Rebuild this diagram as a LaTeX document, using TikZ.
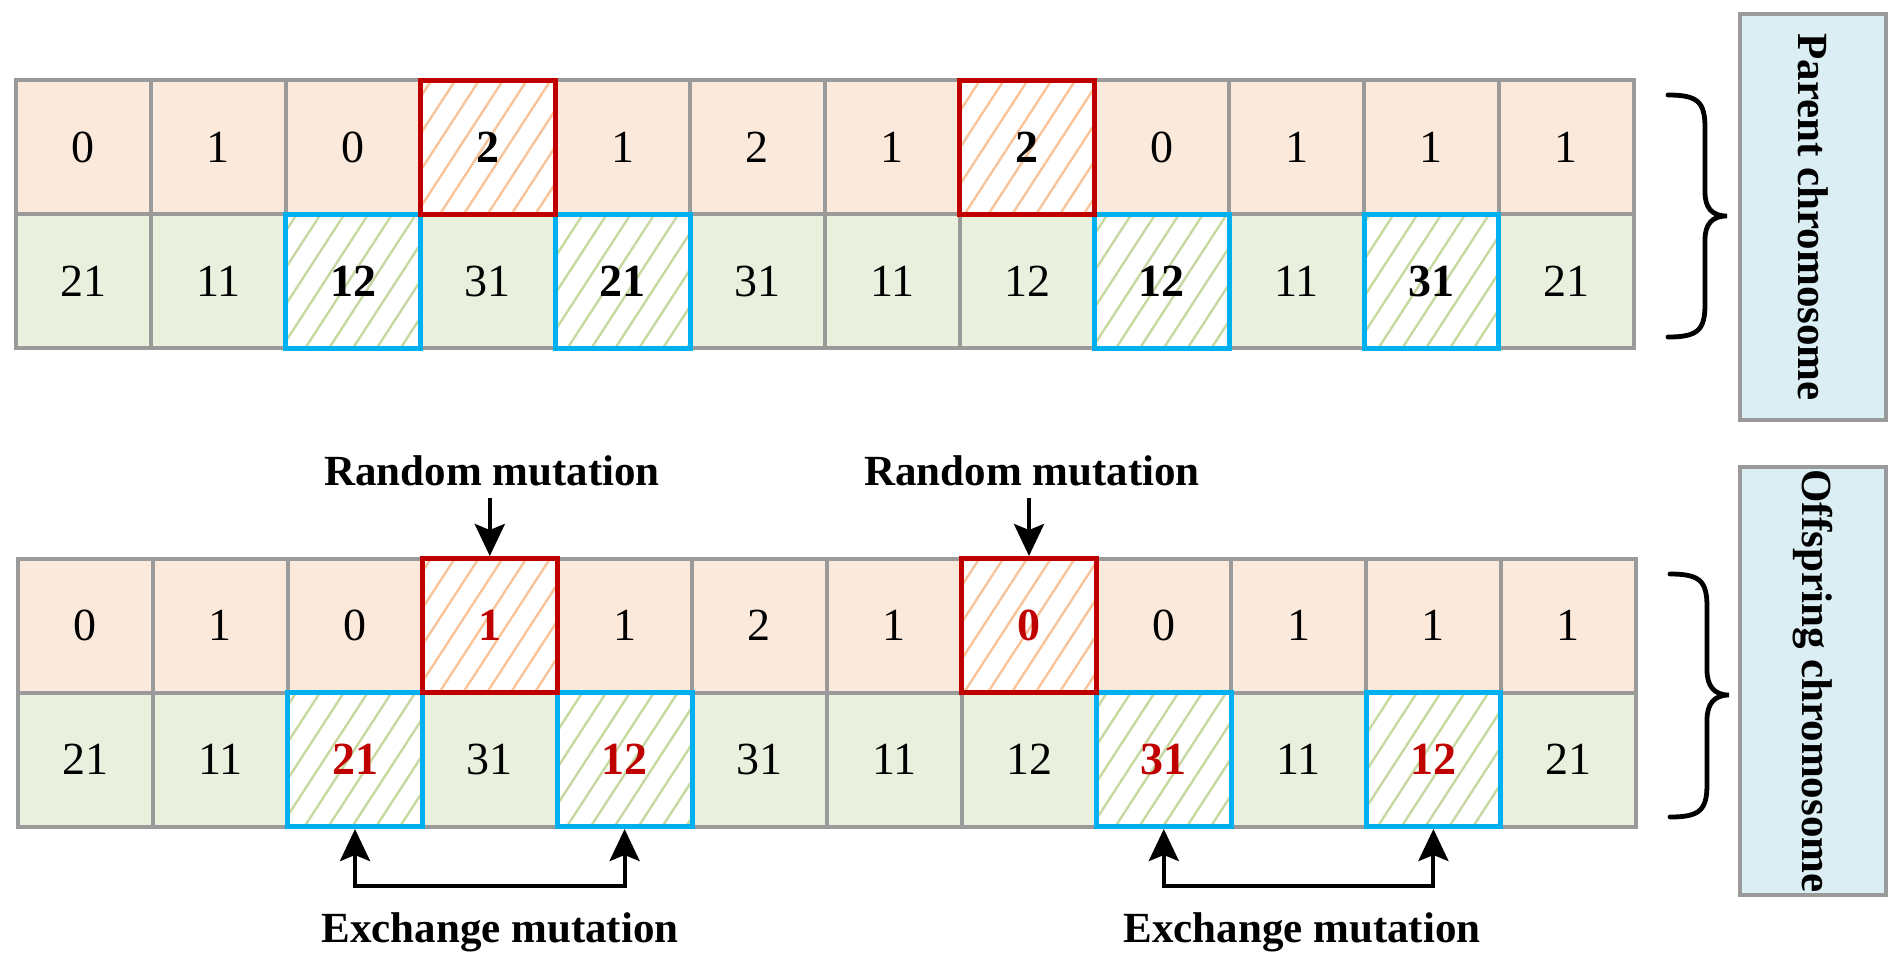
\documentclass[tikz,border=0pt]{standalone}
\usepackage{fontspec}
\setmainfont{Liberation Serif}
\usetikzlibrary{patterns.meta,arrows.meta}
\definecolor{peach}{HTML}{FBE9DB}
\definecolor{lgreen}{HTML}{EAF0DE}
\definecolor{hatchO}{HTML}{FAC49B}
\definecolor{hatchG}{HTML}{C6D9A1}
\definecolor{cellgray}{HTML}{9A9A9A}
\definecolor{mred}{HTML}{C00000}
\definecolor{mblue}{HTML}{00B0F0}
\definecolor{lblue}{HTML}{DAEEF3}
\tikzset{
  cell/.style={draw=cellgray, line width=2pt, minimum width=67.4pt, minimum height=67pt, inner sep=0pt, font=\fontsize{23}{27}\selectfont},
  gA/.style={cell, fill=peach},
  gB/.style={cell, fill=lgreen},
  hA/.style={cell, draw=mred, line width=2.5pt, preaction={fill=white}, pattern={Lines[angle=57,distance=10pt,line width=1.2pt]}, pattern color=hatchO, font=\fontsize{23}{27}\selectfont\bfseries},
  hB/.style={cell, draw=mblue, line width=2.5pt, preaction={fill=white}, pattern={Lines[angle=57,distance=10pt,line width=1.2pt]}, pattern color=hatchG, font=\fontsize{23}{27}\selectfont\bfseries},
  redtxt/.style={text=mred},
  lbl/.style={inner sep=6pt, font=\fontsize{21.5}{25}\selectfont\bfseries},
  sidebox/.style={draw=cellgray, line width=2pt, fill=lblue, rotate=-90, minimum height=73pt, inner sep=0pt, font=\fontsize{21.5}{25}\selectfont\bfseries},
  arr/.style={line width=2pt, -{Stealth[length=16pt,width=15pt,inset=3pt]}},
  darr/.style={line width=2pt, {Stealth[length=16pt,width=15pt,inset=3pt]}-{Stealth[length=16pt,width=15pt,inset=3pt]}},
  bracepath/.style={line width=2.4pt, line cap=round}
}
\begin{document}
\begin{tikzpicture}[x=0.5pt,y=-0.5pt]
\useasboundingbox (0,0) rectangle (1899,965);
% ---------- Parent chromosome ----------
\foreach \i/\v in {0/0,1/1,2/0,4/1,5/2,6/1,8/0,9/1,10/1,11/1}
  \node[gA] (pa\i) at ({16+134.8*(\i+0.5)},147) {\v};
\foreach \i/\v in {0/21,1/11,3/31,5/31,6/11,7/12,9/11,11/21}
  \node[gB] (pb\i) at ({16+134.8*(\i+0.5)},281) {\v};
\foreach \i/\v in {2/12,4/21,8/12,10/31}
  \node[hB] (pb\i) at ({16+134.8*(\i+0.5)},281) {\v};
\foreach \i/\v in {3/2,7/2}
  \node[hA] (pa\i) at ({16+134.8*(\i+0.5)},147) {\v};
% ---------- Offspring chromosome ----------
\foreach \i/\v in {0/0,1/1,2/0,4/1,5/2,6/1,8/0,9/1,10/1,11/1}
  \node[gA] (oa\i) at ({18+134.8*(\i+0.5)},625.5) {\v};
\foreach \i/\v in {0/21,1/11,3/31,5/31,6/11,7/12,9/11,11/21}
  \node[gB] (ob\i) at ({18+134.8*(\i+0.5)},759.5) {\v};
\foreach \i/\v in {2/21,4/12,8/31,10/12}
  \node[hB, redtxt] (ob\i) at ({18+134.8*(\i+0.5)},759.5) {\v};
\foreach \i/\v in {3/1,7/0}
  \node[hA, redtxt] (oa\i) at ({18+134.8*(\i+0.5)},625.5) {\v};
% ---------- braces ----------
\draw[bracepath] (1668,95) .. controls (1698,95) and (1705,102) .. (1705,128) -- (1705,192)
  .. controls (1705,208) and (1712,216) .. (1727,216)
  .. controls (1712,216) and (1705,224) .. (1705,240) -- (1705,304)
  .. controls (1705,330) and (1698,337) .. (1668,337);
\draw[bracepath] (1670,574) .. controls (1700,574) and (1707,581) .. (1707,607) -- (1707,670)
  .. controls (1707,686) and (1714,695) .. (1729,695)
  .. controls (1714,695) and (1707,704) .. (1707,720) -- (1707,784)
  .. controls (1707,810) and (1700,817) .. (1670,817);
% ---------- side labels ----------
\node[sidebox, minimum width=203pt] (parent) at (1813,217) {Parent chromosome};
\node[sidebox, minimum width=214pt] (offspring) at (1813,681) {Offspring chromosome};
% ---------- random mutation ----------
\node[lbl, anchor=base] (rm1) at (492,485) {Random mutation};
\node[lbl, anchor=base] (rm2) at (1032,485) {Random mutation};
\draw[arr] (rm1.south -| oa3.north) -- (oa3.north);
\draw[arr] (rm2.south -| oa7.north) -- (oa7.north);
% ---------- exchange mutation ----------
\coordinate (hline) at (0,886);
\draw[darr] (ob2.south) -- (ob2.south |- hline) -- (ob4.south |- hline) -- (ob4.south);
\draw[darr] (ob8.south) -- (ob8.south |- hline) -- (ob10.south |- hline) -- (ob10.south);
\node[lbl, anchor=base] (ex1) at (500,942) {Exchange mutation};
\node[lbl, anchor=base] (ex2) at (1302,942) {Exchange mutation};
\end{tikzpicture}
\end{document}
